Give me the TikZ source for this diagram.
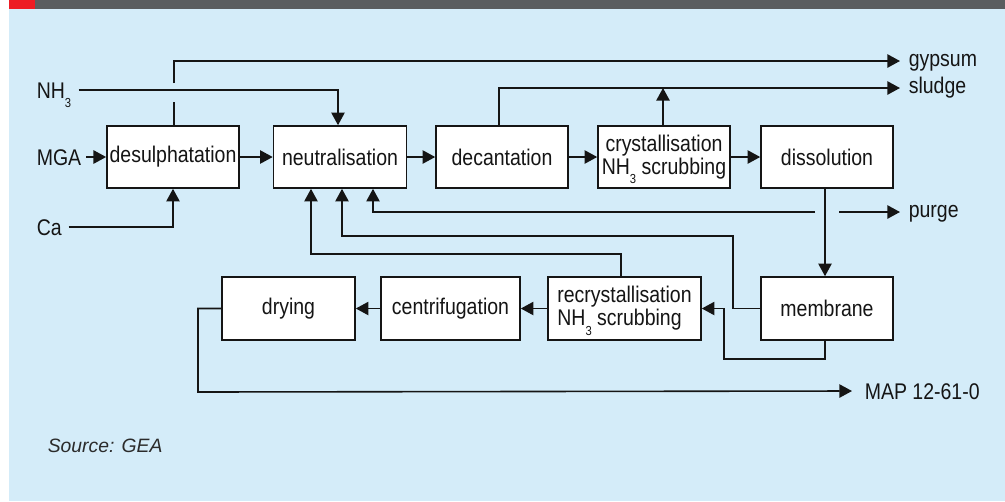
\documentclass[tikz,border=0pt]{standalone}
\usepackage{fontspec}
\setmainfont{Liberation Sans}[FakeStretch=0.86]
\newfontfamily\srcfont{Liberation Sans}
\usetikzlibrary{arrows.meta,calc}
\definecolor{bgblue}{HTML}{D4ECF9}
\definecolor{bargray}{HTML}{5A5D5F}
\definecolor{barred}{HTML}{ED1C24}
\definecolor{ink}{HTML}{151515}
\definecolor{srcgray}{HTML}{2B2B2B}
\newcommand\subthree{\raisebox{-7pt}[0pt][0pt]{\fontsize{9.8}{10}\selectfont 3}}
\begin{document}
\begin{tikzpicture}[x=0.75pt,y=-0.75pt,
  font=\fontsize{17}{17.3}\selectfont,
  line width=1.2pt, draw=ink, text=ink,
  arr/.style={-{Triangle[length=9.5pt,width=10pt]}},
  box/.style={draw=ink, fill=white, line width=1.2pt, minimum width=99pt, minimum height=46.5pt, inner sep=2pt},
  lowbox/.style={box, minimum height=47.25pt},
  caplab/.style={inner ysep=0pt, text height=12.2pt, text depth=0pt},
  lowlab/.style={inner ysep=0pt, text height=8.8pt, text depth=0pt},
]
% background
\fill[white] (0,0) rectangle (1005,501);
\fill[bgblue] (9,9) rectangle (1005,501);
\fill[bargray] (9,0) rectangle (1005,9);
\fill[barred] (9,0) rectangle (35,9);

% boxes
\node[box] (desulph) at (173,157) {desulphatation};
\node[box, minimum width=99.75pt] (neutral) at (340,157) {neutralisation};
\node[box] (decant) at (502,157) {decantation};
\node[box, align=center] (cryst) at (664,157) {crystallisation\\NH\subthree\ scrubbing};
\node[box] (dissol) at (827,157) {dissolution};
\node[lowbox, minimum width=99.75pt] (drying) at (288.5,308.5) {drying};
\node[lowbox, minimum width=104.25pt] (centrif) at (450.5,308.5) {centrifugation};
\node[lowbox, minimum width=114.75pt, align=left] (recryst) at (624.5,308.5) {recrystallisation\\NH\subthree\ scrubbing};
\node[lowbox] (membrane) at (827,308.5) {membrane};

% left labels
\node[caplab, inner xsep=0pt, anchor=west] (nh3) at (36,90) {NH\subthree};
\node[caplab, inner xsep=0pt, anchor=west] (mga) at (36,157) {MGA};
\node[caplab, inner xsep=0pt, anchor=west] (ca) at (36,227) {Ca};
% right labels
\node[lowlab, inner xsep=6pt, anchor=west] (gypsum) at (900,61) {gypsum};
\node[lowlab, inner xsep=6pt, anchor=west] (sludge) at (900,88) {sludge};
\node[lowlab, inner xsep=6pt, anchor=west] (purge) at (900,212) {purge};
\node[caplab, inner xsep=9pt, anchor=west] (map) at (852,391) {MAP 12-61-0};
% source
\node[anchor=base west, inner sep=0pt, text=srcgray, font=\srcfont\fontsize{14.5}{17}\selectfont\itshape] (src) at (47,452) {Source: GEA};

% helper coordinates
\coordinate (gapA) at (174,102);
\coordinate (gapB) at (174,83);
\coordinate (p1) at (815,212);
\coordinate (p2) at (839,212);
\coordinate (cs) at ($(cryst.north)+(-1,0)$);

% main row
\draw[arr, shorten <=3pt] (mga.east) -- (desulph.west);
\draw[arr] (desulph) -- (neutral);
\draw[arr] (neutral) -- (decant);
\draw[arr] (decant) -- (cryst);
\draw[arr] (cryst) -- (dissol);
\draw[arr, shorten <=5pt] (nh3.east) -| ($(neutral.north)+(-2,0)$);
\draw[arr, shorten <=4.5pt] (ca.east) -| (desulph.south);

% gypsum (with gap at NH3 crossing)
\draw ($(desulph.north)+(1,0)$) -- (gapA);
\draw[arr] (gapB) |- (gypsum.west);
% sludge
\draw[arr] ($(decant.north)+(-3,0)$) |- (sludge.west);
\draw[arr] (cs) -- (cs |- sludge.west);

% dissolution -> membrane
\draw[arr] ($(dissol.south)+(-2,0)$) -- ($(membrane.north)+(-2,0)$);
% recycle and purge
\draw[arr] (p1) -| ($(neutral.south)+(33,0)$);
\draw[arr] (p2) -- (purge.west);
\draw[arr] (membrane.west) -| (733,236) -| ($(neutral.south)+(2,0)$);
\draw[arr] ($(recryst.north)+(-3.5,0)$) |- (311,254) -- ($(neutral.south)+(-29,0)$);
\draw[arr] ($(membrane.south)+(-2,0)$) |- (724,359) |- (recryst.east);

% bottom row
\draw[arr] (recryst) -- (centrif);
\draw[arr] (centrif) -- (drying);
\draw[arr] (drying.west) -| (198,392) -- (map.west);
\end{tikzpicture}
\end{document}
